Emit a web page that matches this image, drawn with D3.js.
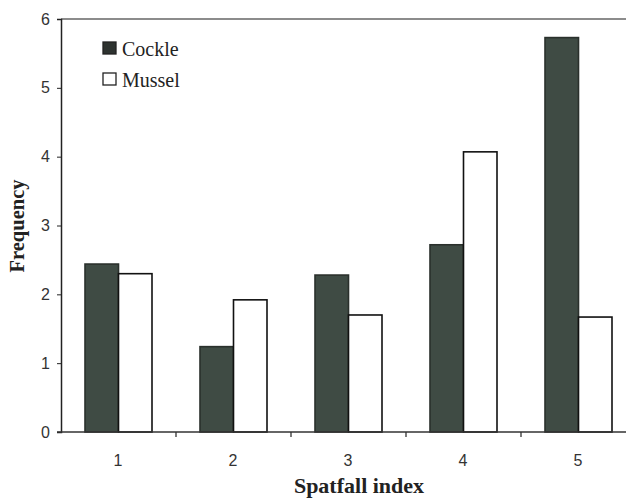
<!DOCTYPE html>
<html>
<head>
<meta charset="utf-8">
<script src="https://cdn.jsdelivr.net/npm/d3@7"></script>
<style>
html,body{margin:0;padding:0;background:#fff;}
svg{display:block;}
</style>
</head>
<body>
<svg id="chart" width="626" height="503"></svg>
<script>
const categories = ["1", "2", "3", "4", "5"];
const seriesNames = ["Cockle", "Mussel"];
const cockle = [2.44, 1.24, 2.28, 2.72, 5.73];
const mussel = [2.30, 1.92, 1.70, 4.07, 1.67];
const yTicks = [0, 1, 2, 3, 4, 5, 6];

const svg = d3.select("#chart");
const W = 626, H = 503;
const x0 = 61, x1 = 636, yTop = 19, yBot = 432;

const x = d3.scaleBand().domain(categories).range([x0, x1]).paddingInner(0).paddingOuter(0);
const y = d3.scaleLinear().domain([0, 6]).range([yBot, yTop]);
const inner = d3.scaleBand().domain(seriesNames).range([0, 67]);
const groupOffset = (x.bandwidth() - 67) / 2;

const colors = {Cockle: "#3f4b44", Mussel: "#ffffff"};
const strokes = {Cockle: "#2a302c", Mussel: "#111"};

const data = categories.map((c, i) => ({cat: c, vals: [
  {s: "Cockle", v: cockle[i]}, {s: "Mussel", v: mussel[i]}]}));

// top frame line
svg.append("line").attr("x1", x0).attr("x2", W).attr("y1", yTop).attr("y2", yTop)
  .attr("stroke", "#666").attr("stroke-width", 1.5);

// bars
const g = svg.append("g");
data.forEach(d => {
  d.vals.forEach(b => {
    g.append("rect")
      .attr("x", x(d.cat) + groupOffset + inner(b.s))
      .attr("y", y(b.v))
      .attr("width", inner.bandwidth())
      .attr("height", y(0) - y(b.v))
      .attr("fill", colors[b.s])
      .attr("stroke", strokes[b.s])
      .attr("stroke-width", 1.6);
  });
});

// y axis
const yAxis = d3.axisLeft(y).tickValues(yTicks).tickSize(4).tickPadding(7).tickFormat(d3.format("d"));
const ya = svg.append("g").attr("transform", `translate(${x0},0)`).call(yAxis);
ya.select(".domain").attr("stroke", "#222").attr("stroke-width", 1.5);
ya.selectAll(".tick line").attr("stroke", "#222");
ya.selectAll("text").attr("font-family", "Liberation Sans, Arial, sans-serif").attr("font-size", 16).attr("fill", "#333");

// x axis
const xa = svg.append("g").attr("transform", `translate(0,${yBot})`);
xa.append("line").attr("x1", x0 - 4).attr("x2", W).attr("y1", 0).attr("y2", 0)
  .attr("stroke", "#333").attr("stroke-width", 1.5);
categories.slice(1).forEach(c => {
  xa.append("line").attr("x1", x(c)).attr("x2", x(c)).attr("y1", 0).attr("y2", 5)
    .attr("stroke", "#333").attr("stroke-width", 1.3);
});
categories.forEach(c => {
  xa.append("text").attr("x", x(c) + x.bandwidth() / 2 - 0.5).attr("y", 34)
    .attr("text-anchor", "middle")
    .attr("font-family", "Liberation Sans, Arial, sans-serif").attr("font-size", 16).attr("fill", "#333")
    .text(c);
});

// axis titles
svg.append("text").attr("x", 359).attr("y", 493).attr("text-anchor", "middle")
  .attr("font-family", "Liberation Serif, Times New Roman, serif").attr("font-weight", "bold")
  .attr("font-size", 22).attr("fill", "#222").text("Spatfall index");
svg.append("text").attr("transform", "translate(24,226) rotate(-90)").attr("text-anchor", "middle")
  .attr("font-family", "Liberation Serif, Times New Roman, serif").attr("font-weight", "bold")
  .attr("font-size", 20.5).attr("fill", "#222").text("Frequency");

// legend
const leg = svg.append("g");
seriesNames.forEach((s, i) => {
  const yy = 42 + i * 31;
  leg.append("rect").attr("x", 103).attr("y", yy).attr("width", 13).attr("height", 12)
    .attr("fill", s === "Cockle" ? "#2e3330" : "#fff").attr("stroke", "#222").attr("stroke-width", 1.3);
  leg.append("text").attr("x", 122).attr("y", yy + 13.5)
    .attr("font-family", "Liberation Serif, Times New Roman, serif")
    .attr("font-size", 20).attr("fill", "#222").text(s);
});
</script>
</body>
</html>
